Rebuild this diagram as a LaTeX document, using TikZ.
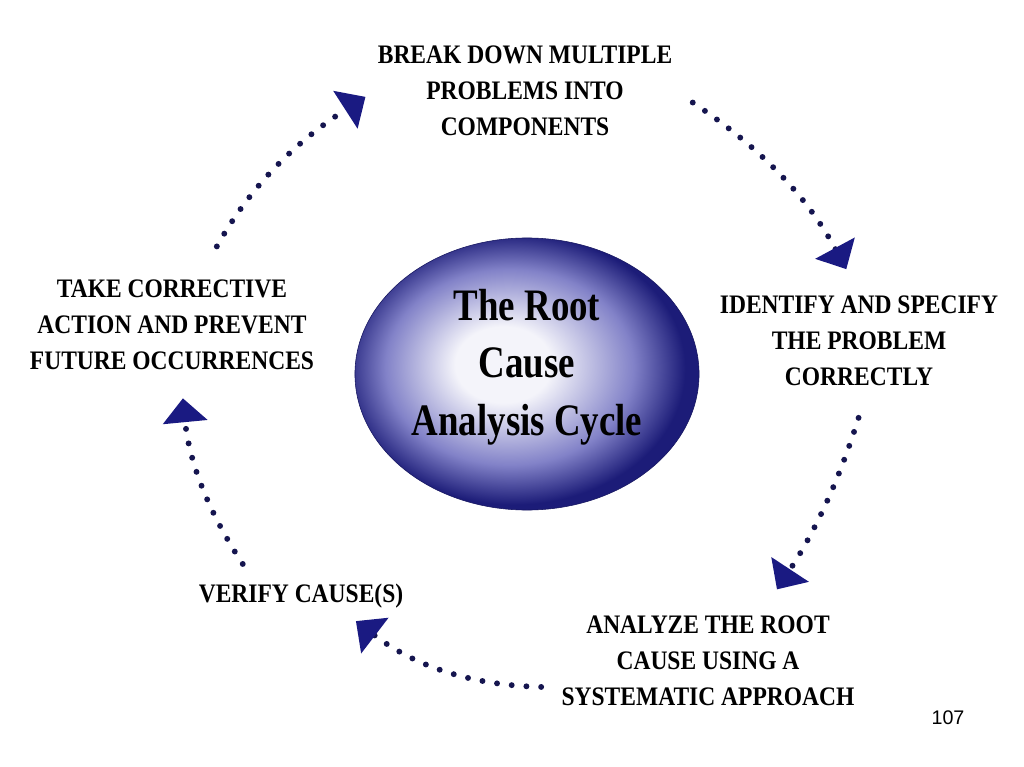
\documentclass[tikz,border=0pt]{standalone}
\usepackage{xcolor}
\usepackage{fontspec}
\usepackage{tikz}
\usetikzlibrary{arrows.meta,shapes.geometric}

\newfontfamily\lblfont[FakeStretch=0.88]{Liberation Serif}
\newfontfamily\titlefont[FakeStretch=0.82]{Liberation Serif}
\newfontfamily\pagefont{Liberation Sans}

\definecolor{rootdark}{HTML}{1C1C78}
\definecolor{rootmid}{HTML}{8282C8}
\definecolor{rootlight}{HTML}{F4F4FA}
\definecolor{dotnavy}{HTML}{15154F}
\definecolor{headnavy}{HTML}{1A1A82}

\pgfdeclareradialshading{rootglow}{\pgfpoint{-4bp}{2bp}}{%
    color(0bp)=(rootlight); color(7bp)=(rootlight);
    color(18bp)=(rootmid); color(25bp)=(rootdark); color(50bp)=(rootdark)}

\begin{document}
\begin{tikzpicture}[
    x = 0.025cm, y = -0.025cm, % one unit = one pixel of the slide
    > = {Triangle[length=17pt, width=31pt, color=headnavy]}, % arrow head style
    bend angle = 14,
    semithick % line style
]
\tikzstyle{every step}=[
    font = \lblfont\bfseries\fontsize{19}{25.6}\selectfont,
    align = center,
    inner sep = 2pt
]
\tikzstyle{cycle arrow}=[
    ->,
    draw = dotnavy,
    line width = 4.2pt,
    line cap = round,
    dash pattern = on 0pt off 10.5pt
]

\useasboundingbox[fill=white] (0,0) rectangle (1024,767);

% centre ellipse
\node[ellipse, shading=rootglow, draw=rootdark!80!black, thin,
      minimum width=8.6cm, minimum height=6.8cm, inner sep=0pt] (hub) at (527,374) {};
\node[font=\titlefont\bfseries\fontsize{32}{41}\selectfont, align=center] (title) at (527,367)
    {The Root\\Cause\\Analysis Cycle};

% steps of the cycle
\node[every step] (brk) at (525,91) {BREAK DOWN MULTIPLE\\PROBLEMS INTO\\COMPONENTS};
\node[every step] (ident) at (859,341) {IDENTIFY AND SPECIFY\\THE PROBLEM\\CORRECTLY};
\node[every step] (anlz) at (708,661) {ANALYZE THE ROOT\\CAUSE USING A\\SYSTEMATIC APPROACH};
\node[every step] (verify) at (301,596) {VERIFY CAUSE(S)};
\node[every step] (take) at (172,325) {TAKE CORRECTIVE\\ACTION AND PREVENT\\FUTURE OCCURRENCES};

\node[font=\pagefont\fontsize{14}{16}\selectfont] (page) at (948,718) {107};

\path (brk.east) edge [cycle arrow, bend left, shorten <=0.52cm, shorten >=0.67cm] (ident.north);
\path (ident.-80) edge [cycle arrow, bend left=8, shorten <=0.75cm, shorten >=0.7cm] (anlz.42);
\path (anlz.190) edge [cycle arrow, bend left=18, shorten <=0.43cm, shorten >=0.4cm] (verify.-20);
\path (verify.162) edge [cycle arrow, bend left, shorten <=0.5cm, shorten >=0.63cm] (take.-80);
\path (take.60) edge [cycle arrow, bend left, shorten <=0.87cm, shorten >=0.27cm] (brk.west);

\end{tikzpicture}
\end{document}
